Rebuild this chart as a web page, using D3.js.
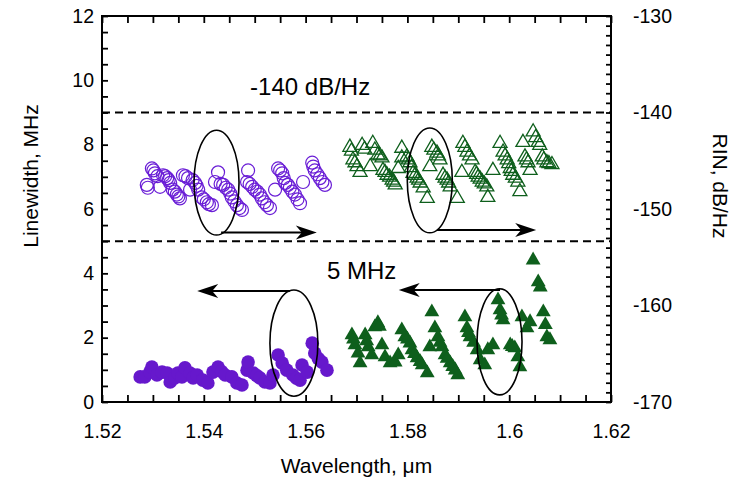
<!DOCTYPE html>
<html><head><meta charset="utf-8">
<script src="https://cdn.jsdelivr.net/npm/d3@7"></script>
<style>body{margin:0;background:#fff} text{font-family:"Liberation Sans",Arial,sans-serif}</style>
</head><body><svg id="c" width="732" height="483"></svg>
<script>
// ---- axes domains & tick labels ----
const xDomain = [1.52, 1.62];
const lwDomain = [0, 12];
const rinDomain = [-170, -130];
const xTickLabels = [1.52, 1.54, 1.56, 1.58, 1.6, 1.62];
const lwTickLabels = [0, 2, 4, 6, 8, 10, 12];
const rinTickLabels = [-170, -160, -150, -140, -130];

// ---- series: [wavelength um, RIN dB/Hz] ----
const rinPurple = [[1.5298,-145.8],[1.5304,-146.3],[1.5288,-147.5],[1.5290,-147.8],[1.5314,-147.7],[1.5320,-146.5],[1.5328,-146.8],[1.5334,-147.3],[1.5339,-148.0],[1.5347,-148.5],[1.5353,-148.9],[1.5359,-146.5],[1.5369,-146.8],[1.5373,-148.0],[1.5383,-147.3],[1.5389,-148.0],[1.5396,-148.8],[1.5406,-149.3],[1.5416,-149.6],[1.5428,-146.2],[1.5422,-147.2],[1.5438,-147.5],[1.5448,-148.0],[1.5455,-148.8],[1.5465,-149.6],[1.5475,-150.1],[1.5487,-146.0],[1.5485,-147.2],[1.5495,-147.7],[1.5505,-148.2],[1.5514,-148.9],[1.5524,-149.6],[1.5530,-149.9],[1.5540,-148.0],[1.5546,-145.8],[1.5554,-146.3],[1.5560,-147.3],[1.5569,-147.8],[1.5579,-148.5],[1.5589,-149.4],[1.5595,-147.2],[1.5613,-145.2],[1.5618,-146.0],[1.5628,-146.8],[1.5638,-147.5],
  [1.5301,-146.0],[1.5309,-146.6],[1.5324,-146.6],[1.5331,-147.0],[1.5343,-148.2],[1.5350,-148.7],[1.5364,-146.6],[1.5378,-147.0],[1.5386,-147.6],[1.5400,-149.0],[1.5410,-149.5],[1.5433,-147.4],[1.5443,-147.8],[1.5452,-148.4],[1.5460,-149.2],[1.5470,-149.9],[1.5490,-147.4],[1.5500,-148.0],[1.5510,-148.5],[1.5519,-149.3],[1.5550,-146.0],[1.5557,-146.8],[1.5565,-147.5],[1.5574,-148.2],[1.5584,-149.0],[1.5615,-145.6],[1.5623,-146.4],[1.5633,-147.2]];
const rinGreen = [[1.5687,-143.6],[1.5711,-143.4],[1.5732,-143.2],[1.5736,-143.9],[1.5742,-144.4],[1.5750,-144.7],[1.5693,-144.9],[1.5701,-145.6],[1.5707,-146.2],[1.5727,-145.6],[1.5752,-146.0],[1.5760,-146.5],[1.5770,-147.0],[1.5776,-147.5],[1.5789,-143.7],[1.5789,-144.7],[1.5782,-145.8],[1.5799,-144.6],[1.5805,-145.2],[1.5811,-146.3],[1.5819,-146.8],[1.5825,-147.3],[1.5831,-147.8],[1.5839,-148.9],[1.5848,-143.6],[1.5858,-144.2],[1.5864,-144.9],[1.5844,-145.6],[1.5870,-146.5],[1.5878,-147.0],[1.5884,-147.7],[1.5898,-148.9],[1.5909,-143.2],[1.5917,-144.1],[1.5927,-144.9],[1.5907,-146.2],[1.5933,-146.2],[1.5939,-146.7],[1.5947,-147.2],[1.5956,-147.7],[1.5958,-148.8],[1.5968,-146.0],[1.5982,-143.2],[1.5988,-144.1],[1.5996,-144.9],[1.6002,-145.8],[1.6007,-146.5],[1.6017,-147.2],[1.6021,-148.2],[1.6027,-143.1],[1.6047,-142.0],[1.6057,-143.1],[1.6031,-144.6],[1.6037,-145.2],[1.6041,-146.0],[1.6065,-144.6],[1.6074,-145.2],[1.6084,-145.4],
  [1.5690,-144.0],[1.5697,-145.2],[1.5716,-143.8],[1.5746,-144.5],[1.5756,-146.2],[1.5765,-146.7],[1.5773,-147.2],[1.5802,-144.9],[1.5808,-145.7],[1.5815,-146.5],[1.5822,-147.0],[1.5852,-143.9],[1.5861,-144.5],[1.5874,-146.8],[1.5881,-147.3],[1.5913,-143.6],[1.5922,-144.5],[1.5936,-146.4],[1.5943,-146.9],[1.5951,-147.4],[1.5992,-144.5],[1.5999,-145.3],[1.6004,-146.1],[1.6012,-146.8],[1.6034,-144.9],[1.6068,-144.9],[1.6078,-145.3],[1.6052,-142.6],[1.6060,-143.4]];

// ---- series: [wavelength um, linewidth MHz] ----
const lwPurple = [[1.5275,0.78],[1.5284,0.78],[1.5294,0.93],[1.5298,1.09],[1.5308,0.84],[1.5318,0.93],[1.5328,0.90],[1.5334,0.62],[1.5343,0.75],[1.5349,0.90],[1.5357,0.78],[1.5363,1.06],[1.5373,0.90],[1.5379,0.75],[1.5387,0.84],[1.5398,0.68],[1.5408,0.59],[1.5418,0.93],[1.5428,1.09],[1.5435,0.95],[1.5442,0.84],[1.5455,0.78],[1.5465,0.59],[1.5475,0.53],[1.5485,0.99],[1.5487,1.24],[1.5497,0.90],[1.5504,0.82],[1.5510,0.75],[1.5520,0.62],[1.5530,0.59],[1.5536,0.84],[1.5546,1.46],[1.5554,1.21],[1.5563,0.99],[1.5575,0.84],[1.5582,0.74],[1.5589,0.68],[1.5593,1.15],[1.5603,0.93],[1.5613,1.83],[1.5618,1.52],[1.5625,1.35],[1.5632,1.24],[1.5642,0.99]];
const lwGreen = [[1.5691,2.08],[1.5697,1.77],[1.5703,1.52],[1.5707,1.21],[1.5717,2.08],[1.5723,1.71],[1.5730,1.46],[1.5736,2.33],[1.5742,2.46],[1.5750,1.77],[1.5756,1.40],[1.5766,1.21],[1.5776,1.24],[1.5782,1.46],[1.5789,2.24],[1.5795,2.02],[1.5805,1.83],[1.5809,1.62],[1.5819,1.37],[1.5829,1.15],[1.5839,0.90],[1.5844,1.71],[1.5848,2.80],[1.5854,2.30],[1.5860,2.02],[1.5868,1.71],[1.5874,1.46],[1.5884,1.21],[1.5894,0.99],[1.5899,0.84],[1.5913,2.64],[1.5917,2.30],[1.5923,2.02],[1.5937,1.62],[1.5943,1.31],[1.5952,1.15],[1.5958,1.62],[1.5968,1.77],[1.5978,3.17],[1.5982,2.86],[1.5988,2.55],[1.6002,1.77],[1.6011,1.68],[1.6017,1.40],[1.6021,1.09],[1.6025,2.64],[1.6035,2.30],[1.6041,2.49],[1.6047,4.41],[1.6057,3.73],[1.6061,3.57],[1.6067,2.80],[1.6074,2.02],[1.6080,1.93],
  [1.5694,1.95],[1.5720,1.90],[1.5745,2.35],[1.5800,1.95],[1.5814,1.50],[1.5825,1.25],[1.5864,1.85],[1.5878,1.35],[1.5889,1.10],[1.5920,2.15],[1.5930,1.85],[1.6006,1.72],[1.6071,2.40],[1.5985,2.70]];

// ---- reference levels & annotations (data units) ----
const refLinesLW = [9, 5];
const ellipses = [ // [cx um, cy MHz, half-width um, half-height MHz]
  [1.5425, 6.82, 0.00442, 1.63],
  [1.5844, 6.89, 0.00442, 1.63],
  [1.5577, 1.83, 0.00471, 1.65],
  [1.5981, 1.87, 0.00442, 1.65]
];
const arrows = [ // [from um, to um, level MHz]
  [1.5434, 1.5622, 5.27],
  [1.5858, 1.6053, 5.35],
  [1.5569, 1.5387, 3.45],
  [1.5982, 1.5783, 3.48]
];
const labels = [["-140 dB/Hz", 1.5491, 9.54], ["5 MHz", 1.5642, 3.82]];

const purple = "#6a1ed6", purpleFill = "#6618cc", green = "#0e5f1c";

const svg = d3.select("#c");
const L = 102, R = 611, T = 16, B = 402;
const x = d3.scaleLinear().domain(xDomain).range([L, R]);
const yL = d3.scaleLinear().domain(lwDomain).range([B, T]);
const yR = d3.scaleLinear().domain(rinDomain).range([B, T]);
const near = (arr, d) => arr.some(v => Math.abs(v - d) < 1e-6);

// axes
const xTicks = d3.range(0, 21).map(i => +(1.52 + i * 0.005).toFixed(3));
svg.append("g").attr("transform", `translate(0,${B})`)
  .call(d3.axisBottom(x).tickValues(xTicks).tickSize(-7).tickPadding(22)
    .tickFormat(d => near(xTickLabels, d) ? String(d) : ""));
svg.append("g").attr("transform", `translate(0,${T})`)
  .call(d3.axisTop(x).tickValues(xTicks).tickSize(-7).tickFormat(""));
svg.append("g").attr("transform", `translate(${L},0)`)
  .call(d3.axisLeft(yL).tickValues(d3.range(0, 12.01, 0.5)).tickSize(-6).tickPadding(8)
    .tickFormat(d => near(lwTickLabels, d) ? String(d) : ""));
svg.append("g").attr("transform", `translate(${R},0)`)
  .call(d3.axisRight(yR).tickValues(d3.range(-170, -129, 1)).tickSize(-5).tickPadding(22)
    .tickFormat(d => near(rinTickLabels, d) ? String(d) : ""));
svg.selectAll(".domain").remove();
svg.selectAll(".tick line").attr("stroke", "#000").attr("stroke-width", 1.8);
svg.selectAll(".tick text").attr("font-size", 19.5).attr("fill", "#000")
  .style("font-family", '"Liberation Sans", Arial, sans-serif');
svg.append("rect").attr("x", L).attr("y", T).attr("width", R - L).attr("height", B - T)
  .attr("fill", "none").attr("stroke", "#000").attr("stroke-width", 2);

// dashed reference lines
svg.selectAll(".ref").data(refLinesLW).enter().append("line")
  .attr("x1", L).attr("x2", R).attr("y1", d => yL(d)).attr("y2", d => yL(d))
  .attr("stroke", "#000").attr("stroke-width", 2).attr("stroke-dasharray", "8,5");

// data marks
const tri = d3.symbol().type(d3.symbolTriangle).size(85);
svg.append("g").selectAll("circle").data(rinPurple).enter().append("circle")
  .attr("cx", d => x(d[0])).attr("cy", d => yR(d[1])).attr("r", 6.5)
  .attr("fill", "none").attr("stroke", purple).attr("stroke-width", 1.2);
svg.append("g").selectAll("path").data(rinGreen).enter().append("path")
  .attr("d", tri).attr("transform", d => `translate(${x(d[0])},${yR(d[1])})`)
  .attr("fill", "none").attr("stroke", green).attr("stroke-width", 1.3);
svg.append("g").selectAll("circle").data(lwPurple).enter().append("circle")
  .attr("cx", d => x(d[0])).attr("cy", d => yL(d[1])).attr("r", 6.8)
  .attr("fill", purpleFill).attr("stroke", "none");
svg.append("g").selectAll("path").data(lwGreen).enter().append("path")
  .attr("d", d3.symbol().type(d3.symbolTriangle).size(95))
  .attr("transform", d => `translate(${x(d[0])},${yL(d[1])})`)
  .attr("fill", green).attr("stroke", "none");

// ellipses
svg.append("g").selectAll("ellipse").data(ellipses).enter().append("ellipse")
  .attr("cx", d => x(d[0])).attr("cy", d => yL(d[1]))
  .attr("rx", d => x(d[0] + d[2]) - x(d[0])).attr("ry", d => yL(d[1] - d[3]) - yL(d[1]))
  .attr("fill", "none").attr("stroke", "#000").attr("stroke-width", 1.6);

// arrows
const ag = svg.append("g");
arrows.forEach(a => {
  const x1 = x(a[0]), x2 = x(a[1]), yy = yL(a[2]);
  const dir = x2 > x1 ? 1 : -1;
  ag.append("line").attr("x1", x1).attr("x2", x2 - dir * 10).attr("y1", yy).attr("y2", yy)
    .attr("stroke", "#000").attr("stroke-width", 2);
  ag.append("path")
    .attr("d", `M${x2},${yy} L${x2 - dir * 21},${yy - 7} L${x2 - dir * 15},${yy} L${x2 - dir * 21},${yy + 7} Z`)
    .attr("fill", "#000");
});

// annotation labels
svg.selectAll(".lab").data(labels).enter().append("text")
  .attr("x", d => x(d[1])).attr("y", d => yL(d[2])).attr("font-size", 24).text(d => d[0]);

// axis titles
svg.append("text").attr("x", (L + R) / 2).attr("y", 473).attr("text-anchor", "middle")
  .attr("font-size", 21).text("Wavelength, \u03bcm");
svg.append("text").attr("transform", "translate(38,176) rotate(-90)").attr("text-anchor", "middle")
  .attr("font-size", 21).text("Linewidth, MHz");
svg.append("text").attr("transform", "translate(713,186) rotate(90)").attr("text-anchor", "middle")
  .attr("font-size", 21).text("RIN, dB/Hz");
</script></body></html>
